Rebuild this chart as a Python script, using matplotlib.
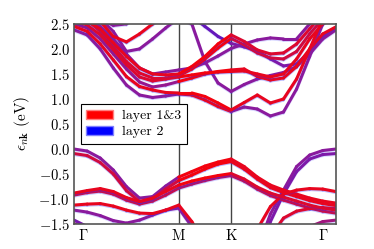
import numpy as np
import matplotlib
matplotlib.use("Agg")
import matplotlib.pyplot as plt
from matplotlib.collections import LineCollection
from matplotlib.colors import LinearSegmentedColormap
from matplotlib.patches import Patch
from matplotlib import transforms

plt.rcParams['font.family'] = ['cmr10']
plt.rcParams['mathtext.fontset'] = 'cm'

# k-path: Gamma - M - K - Gamma
kpts = [0.0, 0.125, 0.25, 0.375, 0.5, 0.625, 0.75, 0.875, 1.0,
        1.125, 1.25, 1.375, 1.5,
        1.625, 1.75, 1.875, 2.0, 2.125, 2.25, 2.375, 2.5]
ksym = [1.0, 1.5]
klabel_pos = [0.09, 1.0, 1.5, 2.38]
klabels = [r'$\Gamma$', r'$\mathrm{M}$', r'$\mathrm{K}$', r'$\Gamma$']
yticks = [-1.5, -1.0, -0.5, 0.0, 0.5, 1.0, 1.5, 2.0, 2.5]

# conduction bands (eV)
c1 = [2.38, 2.28, 2.00, 1.62, 1.28, 1.08, 1.03, 1.06, 1.10, 1.08, 0.98, 0.85, 0.75,
      0.84, 0.80, 0.66, 0.74, 1.20, 1.85, 2.50, 2.80]
c2 = [2.45, 2.35, 2.10, 1.78, 1.45, 1.25, 1.18, 1.13, 1.12, 1.12, 1.05, 0.92, 0.78,
      0.93, 1.08, 0.92, 1.00, 1.40, 2.00, 2.60, 2.90]
c3 = [2.70, 2.62, 2.45, 2.20, 1.90, 1.62, 1.50, 1.54, 1.58, 1.62, 1.72, 1.86, 2.01,
      2.10, 2.18, 2.22, 2.20, 2.20, 2.50, 2.80, 3.00]
c4 = [2.50, 2.42, 2.20, 1.90, 1.60, 1.34, 1.24, 1.28, 1.35, 1.42, 1.50, 1.55, 1.58,
      1.60, 1.45, 1.38, 1.42, 1.65, 2.00, 2.30, 2.44]
c5 = [2.55, 2.48, 2.28, 1.98, 1.68, 1.44, 1.36, 1.40, 1.44, 1.48, 1.52, 1.54, 1.55,
      1.56, 1.50, 1.44, 1.50, 1.80, 2.20, 2.50, 2.70]
c6 = [2.60, 2.55, 2.40, 2.12, 1.85, 1.62, 1.50, 1.48, 1.50, 1.65, 1.85, 2.10, 2.28,
      2.15, 1.98, 1.90, 1.92, 2.10, 2.40, 2.70, 2.90]
c7 = [2.65, 2.58, 2.35, 2.05, 1.75, 1.52, 1.42, 1.42, 1.46, 1.60, 1.80, 2.02, 2.21,
      2.08, 1.92, 1.82, 1.80, 1.95, 2.30, 2.60, 2.80]
c8 = [2.90, 2.80, 2.60, 2.35, 1.95, 2.00, 2.20, 2.42, 2.62, 2.50, 1.75, 1.32, 1.15,
      1.29, 1.40, 1.47, 1.53, 1.65, 1.90, 2.20, 2.38]
c9 = [3.00, 3.00, 3.00, 3.00, 3.00, 3.00, 3.00, 2.90, 2.80, 2.65, 2.45, 2.25, 2.11,
      2.04, 1.96, 1.80, 1.66, 1.70, 1.95, 2.25, 2.42]
c10 = [2.90, 2.80, 2.55, 2.25, 2.14, 2.30, 2.50, 2.70, 2.85, 3.00, 3.00, 3.00, 3.00,
       3.00, 3.00, 3.00, 3.00, 3.00, 3.00, 3.00, 3.00]
c11 = [2.90, 2.75, 2.60, 2.47, 2.50, 2.70, 2.90, 3.00, 3.00, 3.00, 3.00, 3.00, 3.00,
       3.00, 3.00, 3.00, 3.00, 3.00, 3.00, 3.00, 3.00]

# valence bands (eV)
v1 = [0.00, -0.04, -0.18, -0.42, -0.75, -0.98, -0.95, -0.74, -0.56, -0.45, -0.34, -0.26, -0.20,
      -0.35, -0.56, -0.72, -0.82, -0.90, -0.98, -1.04, -1.08]
v2 = [-0.09, -0.13, -0.27, -0.50, -0.83, -1.05, -1.00, -0.80, -0.63, -0.52, -0.40, -0.30, -0.25,
      -0.40, -0.60, -0.77, -0.87, -0.95, -1.03, -1.09, -1.13]
v3 = [-0.88, -0.83, -0.79, -0.85, -0.97, -1.05, -0.98, -0.85, -0.72, -0.64, -0.58, -0.53, -0.49,
      -0.60, -0.76, -0.88, -0.96, -1.04, -1.12, -1.18, -1.22]
v4 = [-0.92, -0.87, -0.84, -0.90, -1.02, -1.10, -1.04, -0.92, -0.78, -0.70, -0.63, -0.57, -0.53,
      -0.64, -0.80, -0.93, -1.02, -1.10, -1.18, -1.24, -1.28]
v5 = [-1.12, -1.10, -1.09, -1.14, -1.22, -1.28, -1.29, -1.22, -1.12, -1.45, -1.90, -2.30, -2.60,
      -2.40, -1.60, -1.15, -0.90, -0.82, -0.79, -0.80, -0.85]
v6 = [-1.22, -1.26, -1.33, -1.43, -1.48, -1.42, -1.32, -1.22, -1.18, -1.55, -2.00, -2.40, -2.70,
      -2.50, -2.00, -1.30, -0.82, -0.35, -0.12, -0.03, 0.00]
v7 = [-1.42, -1.55, -1.80, -2.10, -2.40, -2.60, -2.70, -2.80, -2.80, -2.90, -3.00, -3.00, -3.00,
      -2.80, -2.20, -1.45, -0.90, -0.45, -0.20, -0.11, -0.09]
v8 = [-1.49, -1.62, -1.90, -2.20, -2.50, -2.70, -2.80, -2.90, -3.00, -3.00, -3.00, -3.00, -3.00,
      -2.90, -2.40, -1.75, -1.38, -1.24, -1.19, -1.17, -1.19]
v9 = [-2.20, -2.40, -2.60, -2.80, -3.00, -3.00, -3.00, -3.00, -3.00, -3.00, -3.00, -3.00, -3.00,
      -3.00, -3.00, -2.60, -2.10, -1.75, -1.55, -1.45, -1.42]

# layer 1&3 weight on each stretch (Gamma-M, M-K, K-Gamma); 1 = red, 0 = blue
bands = [c1, c2, c3, c4, c5, c6, c7, c8, c9, c10, c11,
         v1, v2, v3, v4, v5, v6, v7, v8, v9]
weights = [[0.5, 0.9, 0.5], [0.9, 0.95, 0.9], [0.5, 0.5, 0.5], [0.55, 0.95, 0.9],
           [0.85, 0.95, 0.9], [0.9, 0.95, 0.85], [0.85, 0.95, 0.8], [0.5, 0.5, 0.5],
           [0.35, 0.35, 0.45], [0.9, 0.9, 0.9], [0.5, 0.5, 0.5],
           [0.5, 0.95, 0.9], [0.8, 0.95, 0.9], [0.9, 0.95, 0.85], [0.75, 0.65, 0.75],
           [0.9, 0.9, 0.9], [0.5, 0.5, 0.5], [0.42, 0.45, 0.45], [0.6, 0.85, 0.85],
           [0.6, 0.6, 0.6]]

cmap = LinearSegmentedColormap.from_list('layers', ['#1010ff', '#8a1a9e', '#ff0000'])

fig = plt.figure(figsize=(3.74, 2.49), dpi=100)
ax = fig.add_axes([0.198, 0.100, 0.700, 0.804])

shift = transforms.offset_copy(ax.transData, fig=fig, x=0, y=-0.8, units='points')
region = np.searchsorted(ksym, np.array(kpts[:-1]), side='right')
order = np.argsort([np.mean(w) for w in weights])
for i in order:
    pts = np.column_stack([kpts, bands[i]])
    segs = np.stack([pts[:-1], pts[1:]], axis=1)
    segw = np.array(weights[i])[region]
    ax.add_collection(LineCollection(segs, colors='#3030ff', linewidths=2.1,
                                     alpha=0.35 * segw, capstyle='round', transform=shift))
    ax.add_collection(LineCollection(segs, colors=cmap(segw), linewidths=2.2,
                                     capstyle='round', joinstyle='round'))

for k in ksym:
    ax.axvline(k, color='#444444', lw=1.0, zorder=0.5)

ax.set_xlim(0, 2.5)
ax.set_ylim(-1.5, 2.5)
ax.set_xticks(klabel_pos)
ax.set_xticklabels(klabels, fontsize=10.5)
ax.set_yticks(yticks)
ax.set_yticklabels([r'$%.1f$' % y for y in yticks], fontsize=10.5)
ax.tick_params(length=0, pad=3)
ax.set_ylabel(r'$\epsilon_{n\mathbf{k}}$ (eV)', fontsize=11, labelpad=5)
for s in ax.spines.values():
    s.set_color('#555555')
    s.set_linewidth(1.2)

handles = [Patch(facecolor='#ff0000', edgecolor='#ff8080', label='layer 1&3'),
           Patch(facecolor='#0000ff', edgecolor='#8080ff', label='layer 2')]
leg = ax.legend(handles=handles, loc='lower left', bbox_to_anchor=(0.025, 0.40),
                borderaxespad=0, fancybox=False, fontsize=10, handlelength=1.9,
                handleheight=0.6, handletextpad=0.7, labelspacing=0.3, borderpad=0.4,
                framealpha=1)
leg.get_frame().set_edgecolor('black')
leg.get_frame().set_linewidth(0.8)

fig.savefig('out.png', dpi=100)
